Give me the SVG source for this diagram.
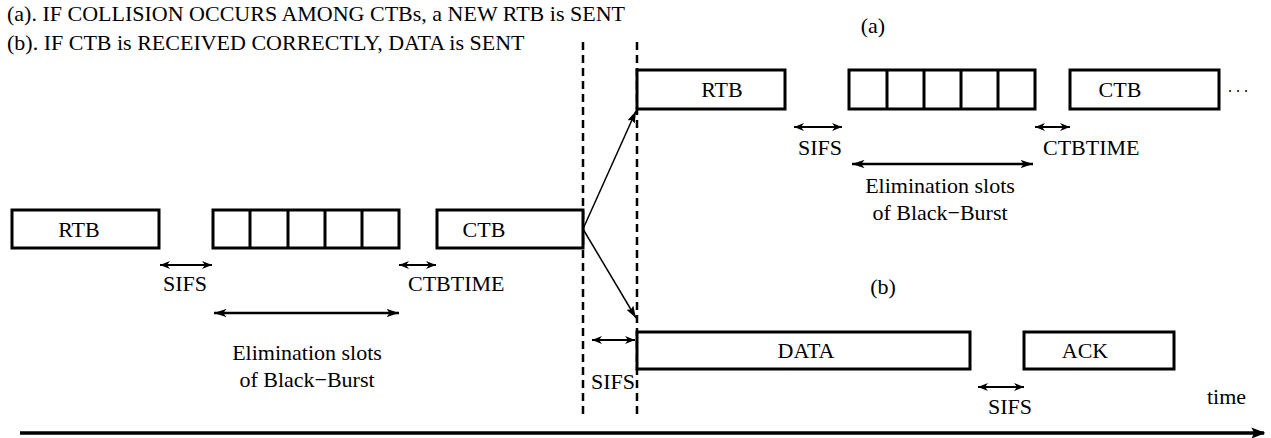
<svg xmlns="http://www.w3.org/2000/svg" width="1271" height="438" viewBox="0 0 1271 438" font-family="'Liberation Serif', 'Times New Roman', 'DejaVu Serif', serif">
<style>
text{font-family:'Liberation Serif','Times New Roman','DejaVu Serif',serif;font-size:22px;fill:#000}
.box{fill:#fff;stroke:#000;stroke-width:3}
.div{stroke:#000;stroke-width:3}
.dash{stroke:#000;stroke-width:2.5;stroke-dasharray:8 5;fill:none}
.dbl{stroke:#000;stroke-width:2;fill:none;marker-start:url(#sh);marker-end:url(#sh)}
.elim{stroke:#000;stroke-width:2.5;fill:none;marker-start:url(#lh);marker-end:url(#lh)}
.diag{stroke:#000;stroke-width:1.5;fill:none;marker-end:url(#dh)}
.axis{stroke:#000;stroke-width:3.5;fill:none;marker-end:url(#ah)}
.c{text-anchor:middle}
</style>
<defs>
<marker id="sh" viewBox="0 0 10 8" refX="10" refY="4" markerWidth="5" markerHeight="4" orient="auto-start-reverse" markerUnits="strokeWidth"><path d="M0,0 L10,4 L0,8 L3,4 Z" fill="#000"/></marker>
<marker id="lh" viewBox="0 0 12 8" refX="12" refY="4" markerWidth="5" markerHeight="3.4" orient="auto-start-reverse" markerUnits="strokeWidth"><path d="M0,0 L12,4 L0,8 L3,4 Z" fill="#000"/></marker>
<marker id="dh" viewBox="0 0 12 8" refX="12" refY="4" markerWidth="8" markerHeight="5.5" orient="auto" markerUnits="strokeWidth"><path d="M0,0 L12,4 L0,8 L2,4 Z" fill="#000"/></marker>
<marker id="ah" viewBox="0 0 10 8" refX="9" refY="4" markerWidth="4" markerHeight="3.2" orient="auto" markerUnits="strokeWidth"><path d="M0,0 L10,4 L0,8 L2,4 Z" fill="#000"/></marker>
</defs>

<g id="captions">
<text x="7" y="21">(a). IF COLLISION OCCURS AMONG CTBs, a NEW RTB is SENT</text>
<text x="7" y="50">(b). IF CTB is RECEIVED CORRECTLY, DATA is SENT</text>
<text class="c" x="873" y="33">(a)</text>
<text class="c" x="883" y="294">(b)</text>
<text x="1207" y="404">time</text>
</g>

<g id="connectors">
<line class="dash" x1="583" y1="42" x2="583" y2="416"/>
<line class="dash" x1="637" y1="42" x2="637" y2="416"/>
<line class="diag" x1="583" y1="229" x2="636" y2="111"/>
<line class="diag" x1="583" y1="229" x2="636" y2="318"/>
<line class="axis" x1="20" y1="433" x2="1264" y2="433"/>
<line class="dbl" x1="160" y1="265" x2="212" y2="265"/>
<line class="dbl" x1="399" y1="265" x2="436" y2="265"/>
<line class="elim" x1="214" y1="313" x2="399" y2="313"/>
<line class="dbl" x1="794" y1="127" x2="842" y2="127"/>
<line class="dbl" x1="1035" y1="127" x2="1070" y2="127"/>
<line class="elim" x1="852" y1="164" x2="1033" y2="164"/>
<line class="dbl" x1="592" y1="340" x2="635" y2="340"/>
<line class="dbl" x1="978" y1="387" x2="1024" y2="387"/>
</g>

<g id="rtb1">
<rect class="box" x="12" y="210" width="147" height="38"/>
<text class="c" x="79" y="237">RTB</text>
</g>
<g id="slots1">
<rect class="box" x="213" y="210" width="186" height="38"/>
<line class="div" x1="250" y1="210" x2="250" y2="248"/>
<line class="div" x1="288" y1="210" x2="288" y2="248"/>
<line class="div" x1="325" y1="210" x2="325" y2="248"/>
<line class="div" x1="362" y1="210" x2="362" y2="248"/>
</g>
<g id="ctb1">
<rect class="box" x="437" y="210" width="146" height="38"/>
<text class="c" x="484" y="237">CTB</text>
</g>
<g id="labels1">
<text class="c" x="185" y="291">SIFS</text>
<text x="408" y="291">CTBTIME</text>
<text class="c" x="307" y="360">Elimination slots</text>
<text class="c" x="307" y="387">of Black−Burst</text>
</g>

<g id="rtb2">
<rect class="box" x="637" y="70" width="148" height="39"/>
<text class="c" x="722" y="97">RTB</text>
</g>
<g id="slots2">
<rect class="box" x="849" y="70" width="186" height="39"/>
<line class="div" x1="887" y1="70" x2="887" y2="109"/>
<line class="div" x1="924" y1="70" x2="924" y2="109"/>
<line class="div" x1="961" y1="70" x2="961" y2="109"/>
<line class="div" x1="998" y1="70" x2="998" y2="109"/>
</g>
<g id="ctb2">
<rect class="box" x="1070" y="70" width="149" height="39"/>
<text class="c" x="1120" y="97">CTB</text>
<text x="1228" y="92" style="font-size:16px">. . .</text>
</g>
<g id="labels2">
<text class="c" x="820" y="155">SIFS</text>
<text x="1043" y="155">CTBTIME</text>
<text class="c" x="940" y="193">Elimination slots</text>
<text class="c" x="940" y="220">of Black−Burst</text>
</g>

<g id="data">
<rect class="box" x="637" y="332" width="333" height="37"/>
<text class="c" x="806" y="358">DATA</text>
</g>
<g id="ack">
<rect class="box" x="1024" y="332" width="150" height="37"/>
<text class="c" x="1085" y="358">ACK</text>
</g>
<g id="labels3">
<text class="c" x="613" y="389">SIFS</text>
<text class="c" x="1010" y="414">SIFS</text>
</g>
</svg>
